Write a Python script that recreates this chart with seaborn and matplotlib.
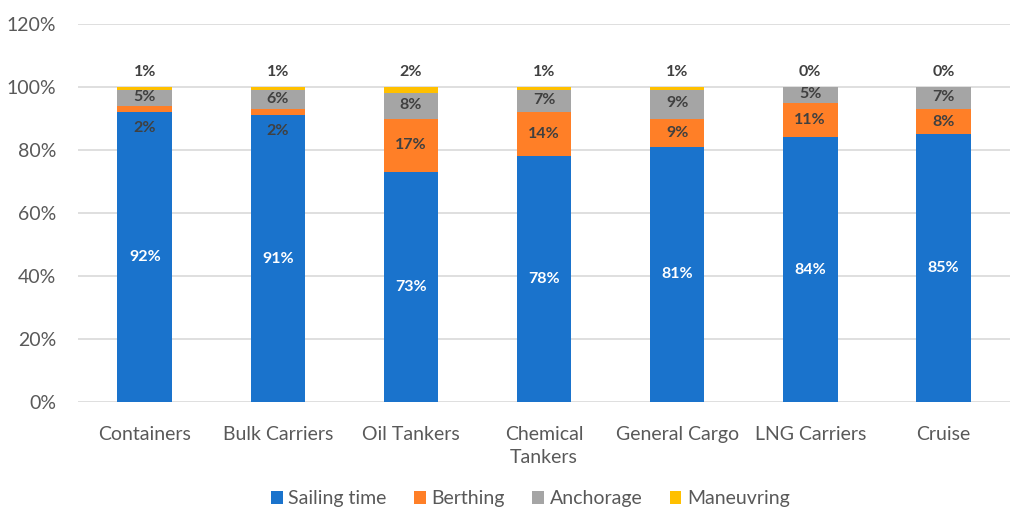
import numpy as np
import pandas as pd
import matplotlib
matplotlib.use("Agg")
import matplotlib.pyplot as plt
from matplotlib.patches import Patch
from matplotlib.ticker import PercentFormatter
import seaborn as sns

categories = ["Containers", "Bulk Carriers", "Oil Tankers", "Chemical\nTankers",
              "General Cargo", "LNG Carriers", "Cruise"]
sailing = [92, 91, 73, 78, 81, 84, 85]
berthing = [2, 2, 17, 14, 9, 11, 8]
anchorage = [5, 6, 8, 7, 9, 5, 7]
maneuvring = [1, 1, 2, 1, 1, 0, 0]

series = ["Sailing time", "Berthing", "Anchorage", "Maneuvring"]
colors = ["#1A73CC", "#FF7F27", "#A5A5A5", "#FFC000"]

sns.set_theme(style="white")
plt.rcParams["font.family"] = ["Lato", "DejaVu Sans"]

df = pd.DataFrame({"cat": categories, "Sailing time": sailing, "Berthing": berthing,
                   "Anchorage": anchorage, "Maneuvring": maneuvring})
cum = df[series].cumsum(axis=1)

fig = plt.figure(figsize=(10.16, 5.12), dpi=100)
ax = fig.add_axes([0.077, 0.215, 0.917, 0.738])

# overlay cumulative totals, tallest first
for s, c in reversed(list(zip(series, colors))):
    sns.barplot(x=df["cat"], y=cum[s], color=c, width=0.41, ax=ax,
                saturation=1, linewidth=0)

ax.set_ylim(0, 120)
ax.set_yticks(range(0, 121, 20))
ax.yaxis.set_major_formatter(PercentFormatter(decimals=0))
ax.grid(axis="y", color="#D9D9D9", linewidth=1.2)
ax.set_axisbelow(True)
for sp in ax.spines.values():
    sp.set_visible(False)
ax.set_xlabel("")
ax.set_ylabel("")
ax.tick_params(axis="both", length=0, labelsize=14, labelcolor="#595959")
ax.tick_params(axis="x", pad=17)
ax.tick_params(axis="y", pad=16)
for t in ax.get_xticklabels():
    t.set_linespacing(1.45)

# data labels
lbl = dict(ha="center", va="center", fontsize=11.5, fontweight="bold")
for i in range(len(categories)):
    ax.text(i, sailing[i] / 2, f"{sailing[i]}%", color="white", **lbl)
    b0 = sailing[i]
    if berthing[i] < 4:
        by = b0 - 5
    else:
        by = b0 + berthing[i] / 2
    ax.text(i, by, f"{berthing[i]}%", color="#404040", **lbl)
    a0 = b0 + berthing[i]
    ax.text(i, a0 + anchorage[i] / 2 + 0.3, f"{anchorage[i]}%", color="#404040", **lbl)
    ax.text(i, 104.8, f"{maneuvring[i]}%", color="#404040", **lbl)

handles = [Patch(facecolor=c, edgecolor="none") for c in colors]
fig.legend(handles, series, loc="center", bbox_to_anchor=(0.522, 0.026), ncol=4,
           frameon=False, fontsize=14, labelcolor="#595959", handlelength=0.6,
           handleheight=0.6, handletextpad=0.3, columnspacing=1.4)

fig.savefig("out.png", dpi=100)
